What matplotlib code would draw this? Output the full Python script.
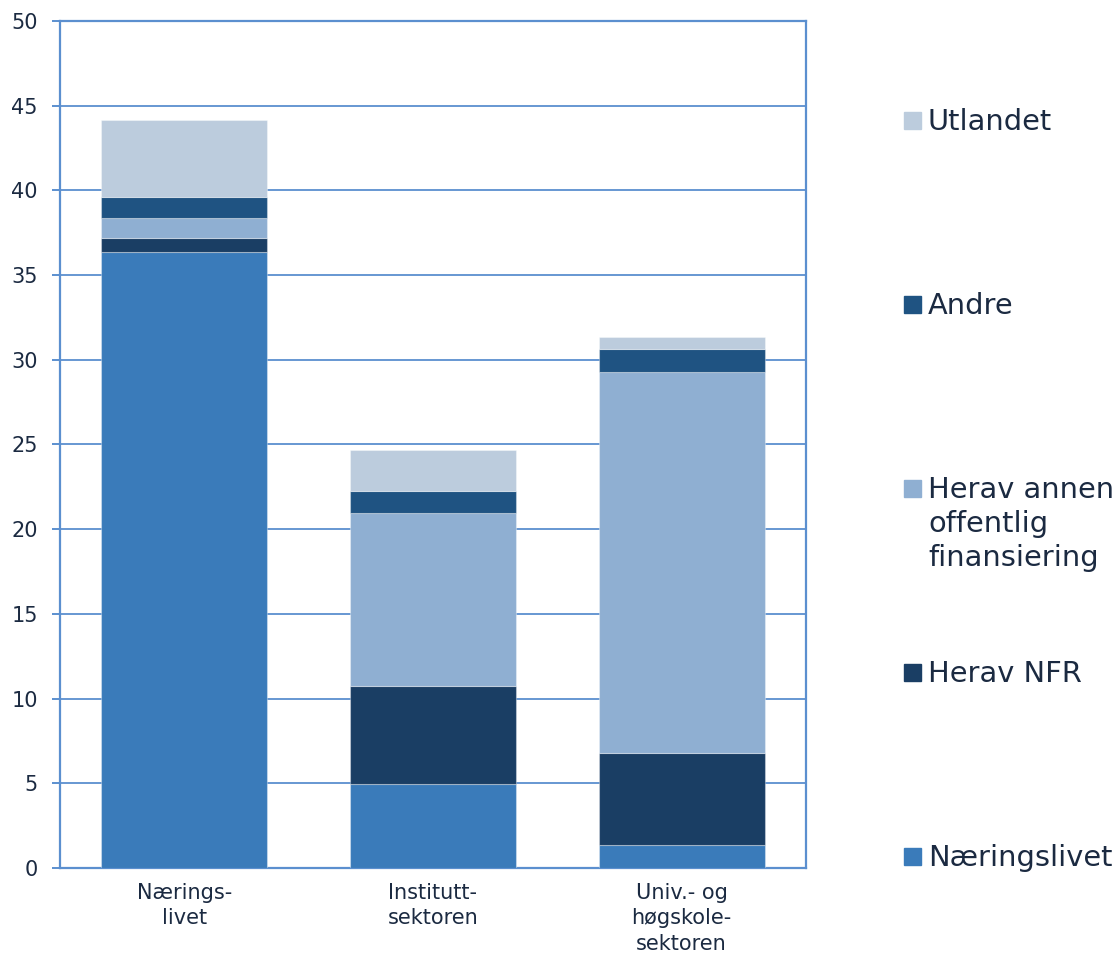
import matplotlib.pyplot as plt
from matplotlib.patches import Rectangle

# R&D expenditure by performing sector, split by source of funds
sectors = ['Nærings-\nlivet', 'Institutt-\nsektoren', 'Univ.- og\nhøgskole-\nsektoren']
naeringslivet = [36.36, 4.96, 1.33]
herav_nfr = [0.83, 5.80, 5.47]
herav_annen = [1.18, 10.21, 22.50]
andre = [1.23, 1.26, 1.32]
utlandet = [4.54, 2.42, 0.74]

series = [
    ('Næringslivet', naeringslivet, '#3A7BBA'),
    ('Herav NFR', herav_nfr, '#1A3E64'),
    ('Herav annen\noffentlig\nfinansiering', herav_annen, '#8FAFD2'),
    ('Andre', andre, '#1F5382'),
    ('Utlandet', utlandet, '#BCCCDD'),
]

text_color = '#1B2A41'
frame_color = '#5B8FCF'

W, H = 1119, 958
fig = plt.figure(figsize=(W / 100, H / 100), dpi=100)
ax = fig.add_axes([60 / W, 1 - 868 / H, 746 / W, 847 / H])

x = range(len(sectors))
bottom = [0.0] * len(sectors)
for label, vals, color in series:
    ax.bar(x, vals, width=0.667, bottom=bottom, color=color,
           edgecolor=(1, 1, 1, 0.35), linewidth=0.8, zorder=3)
    bottom = [b + v for b, v in zip(bottom, vals)]

ax.set_xlim(-0.5, 2.5)
ax.set_ylim(0, 50)
ax.set_yticks(range(0, 51, 5))
ax.yaxis.grid(True, color=frame_color, linewidth=1.3, zorder=0)
ax.set_axisbelow(True)
for s in ax.spines.values():
    s.set_color(frame_color)
    s.set_linewidth(1.6)

ax.set_xticks(list(x))
ax.set_xticklabels(sectors, fontsize=15, color=text_color, linespacing=1.32,
                   va='top')
ax.tick_params(axis='x', length=0, pad=11)
ax.tick_params(axis='y', length=6, width=1.4, color=frame_color,
               labelsize=15, labelcolor=text_color, pad=10)

# legend entries on the right, evenly spaced from top to bottom
sq = 17
for i, (label, vals, color) in enumerate(reversed(series)):
    top = 112 + i * 184
    fig.patches.append(Rectangle((904 / W, 1 - (top + sq) / H), sq / W, sq / H,
                                 transform=fig.transFigure, color=color))
    fig.text(928 / W, 1 - (top - 4) / H, label, fontsize=20.8, color=text_color,
             va='top', ha='left', linespacing=1.28)

fig.savefig('out.png', dpi=100)
